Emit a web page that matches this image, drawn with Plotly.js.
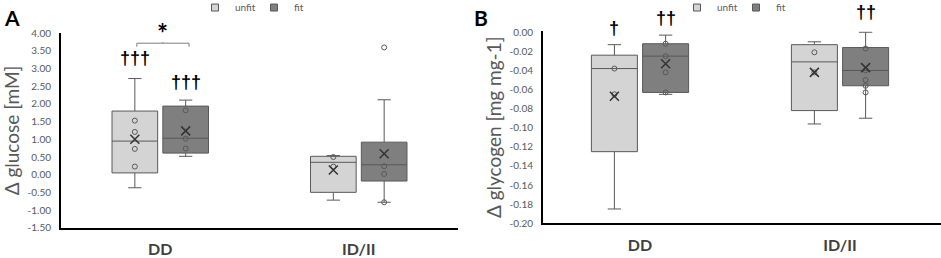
<!DOCTYPE html>
<html>
<head>
<meta charset="utf-8">
<script src="https://cdn.plot.ly/plotly-3.0.1.min.js"></script>
<style>html,body{margin:0;padding:0;background:#fff;}#chart{width:941px;height:258px;}</style>
</head>
<body>
<div id="chart"></div>
<script>
// ---- data ----
const categories = ['DD', 'ID/II'];
const groups = ['unfit', 'fit'];

// Panel A: Δ glucose [mM]
const gluUnfitQ1 = [0.05, -0.50];
const gluUnfitMedian = [0.95, 0.35];
const gluUnfitQ3 = [1.80, 0.52];
const gluUnfitLower = [-0.37, -0.72];
const gluUnfitUpper = [2.72, 0.54];
const gluUnfitMean = [1.00, 0.13];
const gluUnfitPoints = [[1.53, 1.21, 0.73, 0.23], [0.50, 0.23]];

const gluFitQ1 = [0.61, -0.18];
const gluFitMedian = [1.03, 0.28];
const gluFitQ3 = [1.94, 0.92];
const gluFitLower = [0.52, -0.78];
const gluFitUpper = [2.11, 2.12];
const gluFitMean = [1.24, 0.59];
const gluFitPoints = [[1.82, 1.02, 0.74], [0.24, 0.02, -0.78, 3.60]];

const gluTickVals = [-1.5, -1.0, -0.5, 0, 0.5, 1.0, 1.5, 2.0, 2.5, 3.0, 3.5, 4.0];
const gluTickText = ['-1.50', '-1.00', '-0.50', '0.00', '0.50', '1.00', '1.50', '2.00', '2.50', '3.00', '3.50', '4.00'];

// Panel B: Δ glycogen [mg mg-1]
const glyUnfitQ1 = [-0.125, -0.082];
const glyUnfitMedian = [-0.038, -0.031];
const glyUnfitQ3 = [-0.024, -0.013];
const glyUnfitLower = [-0.185, -0.096];
const glyUnfitUpper = [-0.013, -0.010];
const glyUnfitMean = [-0.067, -0.042];
const glyUnfitPoints = [[-0.038, -0.065], [-0.021, -0.042]];

const glyFitQ1 = [-0.063, -0.056];
const glyFitMedian = [-0.025, -0.040];
const glyFitQ3 = [-0.012, -0.016];
const glyFitLower = [-0.065, -0.090];
const glyFitUpper = [-0.003, 0.000];
const glyFitMean = [-0.033, -0.037];
const glyFitPoints = [[-0.012, -0.025, -0.042, -0.063], [-0.017, -0.040, -0.050, -0.056, -0.063]];

const glyTickVals = [-0.20, -0.18, -0.16, -0.14, -0.12, -0.10, -0.08, -0.06, -0.04, -0.02, 0.00];
const glyTickText = ['-0.20', '-0.18', '-0.16', '-0.14', '-0.12', '-0.10', '-0.08', '-0.06', '-0.04', '-0.02', '0.00'];

// significance marks: [panel, category index, group, text]
const sigMarks = [
  ['A', 0, 'unfit', '†††'],
  ['A', 0, 'fit', '†††'],
  ['B', 0, 'unfit', '†'],
  ['B', 0, 'fit', '††'],
  ['B', 1, 'fit', '††']
];

// ---- styling ----
const OFF = 0.128, BOXW = 0.23;
const FILL = {unfit: '#d4d4d4', fit: '#7f7f7f'};
const LINE = '#595959';
const W = 941, H = 258;

function pos(off) { return categories.map((c, i) => i + off); }

function boxTrace(name, off, q1, med, q3, lo, hi, xa, ya) {
  return {type: 'box', name: name, x: pos(off), q1: q1, median: med, q3: q3,
    lowerfence: lo, upperfence: hi, width: BOXW, whiskerwidth: 0.29,
    fillcolor: FILL[name], line: {color: LINE, width: 1}, boxpoints: false,
    xaxis: xa, yaxis: ya, showlegend: false, hoverinfo: 'skip'};
}
function pointTrace(off, pts, xa, ya) {
  const xs = [], ys = [];
  pts.forEach((arr, i) => arr.forEach(v => { xs.push(i + off); ys.push(v); }));
  return {type: 'scatter', mode: 'markers', x: xs, y: ys, xaxis: xa, yaxis: ya,
    marker: {symbol: 'circle-open', size: 5, color: LINE, line: {width: 1}},
    showlegend: false, hoverinfo: 'skip', cliponaxis: false};
}
function meanTrace(off, m, xa, ya) {
  return {type: 'scatter', mode: 'markers', x: pos(off), y: m, xaxis: xa, yaxis: ya,
    marker: {symbol: 'x-thin-open', size: 9, color: '#333333', line: {width: 1.5, color: '#333333'}},
    showlegend: false, hoverinfo: 'skip'};
}
function legendTrace(name, legend, xa, ya) {
  return {type: 'scatter', mode: 'markers', x: [null], y: [null], name: name, legend: legend,
    xaxis: xa, yaxis: ya,
    marker: {symbol: 'square', size: 7, color: FILL[name], line: {color: LINE, width: 1}}};
}

const data = [
  boxTrace('unfit', -OFF, gluUnfitQ1, gluUnfitMedian, gluUnfitQ3, gluUnfitLower, gluUnfitUpper, 'x', 'y'),
  boxTrace('fit', OFF, gluFitQ1, gluFitMedian, gluFitQ3, gluFitLower, gluFitUpper, 'x', 'y'),
  pointTrace(-OFF, gluUnfitPoints, 'x', 'y'),
  pointTrace(OFF, gluFitPoints, 'x', 'y'),
  meanTrace(-OFF, gluUnfitMean, 'x', 'y'),
  meanTrace(OFF, gluFitMean, 'x', 'y'),
  boxTrace('unfit', -OFF, glyUnfitQ1, glyUnfitMedian, glyUnfitQ3, glyUnfitLower, glyUnfitUpper, 'x2', 'y2'),
  boxTrace('fit', OFF, glyFitQ1, glyFitMedian, glyFitQ3, glyFitLower, glyFitUpper, 'x2', 'y2'),
  pointTrace(-OFF, glyUnfitPoints, 'x2', 'y2'),
  pointTrace(OFF, glyFitPoints, 'x2', 'y2'),
  meanTrace(-OFF, glyUnfitMean, 'x2', 'y2'),
  meanTrace(OFF, glyFitMean, 'x2', 'y2'),
  legendTrace('unfit', 'legend', 'x', 'y'),
  legendTrace('fit', 'legend', 'x', 'y'),
  legendTrace('unfit', 'legend2', 'x2', 'y2'),
  legendTrace('fit', 'legend2', 'x2', 'y2')
];

const xBase = {showline: true, linecolor: '#000', linewidth: 2, showgrid: false, zeroline: false,
  tickmode: 'array', tickvals: [0, 1], ticktext: categories, ticks: '', ticklabelstandoff: 6,
  tickfont: {family: 'Lato', size: 16, color: '#404040', weight: 'bold'}, fixedrange: true};
const yBase = {showline: true, linecolor: '#000', linewidth: 2, showgrid: false, zeroline: false,
  tickmode: 'array', ticks: '', ticklabelstandoff: 6,
  tickfont: {family: 'Lato', size: 10, color: '#595959'}, fixedrange: true};

const legendBase = {orientation: 'h', font: {family: 'Lato', size: 10, color: '#595959'},
  bgcolor: 'rgba(0,0,0,0)', yanchor: 'top', y: 1.027, itemwidth: 30, entrywidth: 20,
  indentation: -6, xanchor: 'left'};

// pixel positions (from top) of the significance marks
const sigY = [58, 82, 28, 18, 12.5];
const sigAnn = sigMarks.map((s, k) => ({
  text: '<b>' + s[3] + '</b>', xref: s[0] === 'A' ? 'x' : 'x2', yref: 'paper',
  x: s[1] + (s[2] === 'unfit' ? -OFF : OFF), y: 1 - sigY[k] / H,
  showarrow: false, yanchor: 'middle', font: {family: 'Liberation Sans', size: 18, color: '#000'}
}));

const layout = {
  width: W, height: H, margin: {l: 0, r: 0, t: 0, b: 0, autoexpand: false},
  paper_bgcolor: '#fff', plot_bgcolor: 'rgba(0,0,0,0)',
  font: {family: 'Lato', color: '#595959'},
  xaxis: Object.assign({}, xBase, {domain: [61 / W, 458 / W], range: [-0.5, 1.5], anchor: 'y'}),
  yaxis: Object.assign({}, yBase, {domain: [(H - 227.7) / H, (H - 33.3) / H], range: [-1.5, 4.0],
    tickvals: gluTickVals, ticktext: gluTickText, anchor: 'x',
    title: {text: 'Δ glucose [mM]', font: {family: 'Lato', size: 19, color: '#595959'}, standoff: 6}}),
  xaxis2: Object.assign({}, xBase, {domain: [543 / W, 1], range: [-0.485, 1.505], anchor: 'y2'}),
  yaxis2: Object.assign({}, yBase, {domain: [(H - 223.3) / H, (H - 31.3) / H], range: [-0.2, 0.001],
    tickvals: glyTickVals, ticktext: glyTickText, anchor: 'x2',
    title: {text: 'Δ glycogen [mg mg-1]', font: {family: 'Lato', size: 19, color: '#595959'}, standoff: 3}}),
  legend: Object.assign({}, legendBase, {x: 201 / W}),
  legend2: Object.assign({}, legendBase, {x: 683 / W}),
  showlegend: true,
  shapes: [
    {type: 'path', xref: 'x', yref: 'y',
     path: `M ${-0.118},3.62 L ${-0.118},3.72 L ${0.145},3.72 L ${0.145},3.62 M 0.013,3.72 L 0.013,3.75`,
     line: {color: '#7f7f7f', width: 1}}
  ],
  annotations: [
    {text: '<b>A</b>', xref: 'paper', yref: 'paper', x: 2 / W, y: 1 - 3 / H, xanchor: 'left', yanchor: 'top',
     showarrow: false, font: {family: 'Lato', size: 21, color: '#000'}},
    {text: '<b>B</b>', xref: 'paper', yref: 'paper', x: 472 / W, y: 1 - 3 / H, xanchor: 'left', yanchor: 'top',
     showarrow: false, font: {family: 'Lato', size: 21, color: '#000'}},
    {text: '<b>*</b>', xref: 'x', yref: 'paper', x: 0.01, y: 1 - 33 / H, showarrow: false, yanchor: 'middle',
     font: {family: 'Lato', size: 26, color: '#000'}}
  ].concat(sigAnn)
};

Plotly.newPlot('chart', data, layout, {staticPlot: true, displayModeBar: false});
</script>
</body>
</html>
